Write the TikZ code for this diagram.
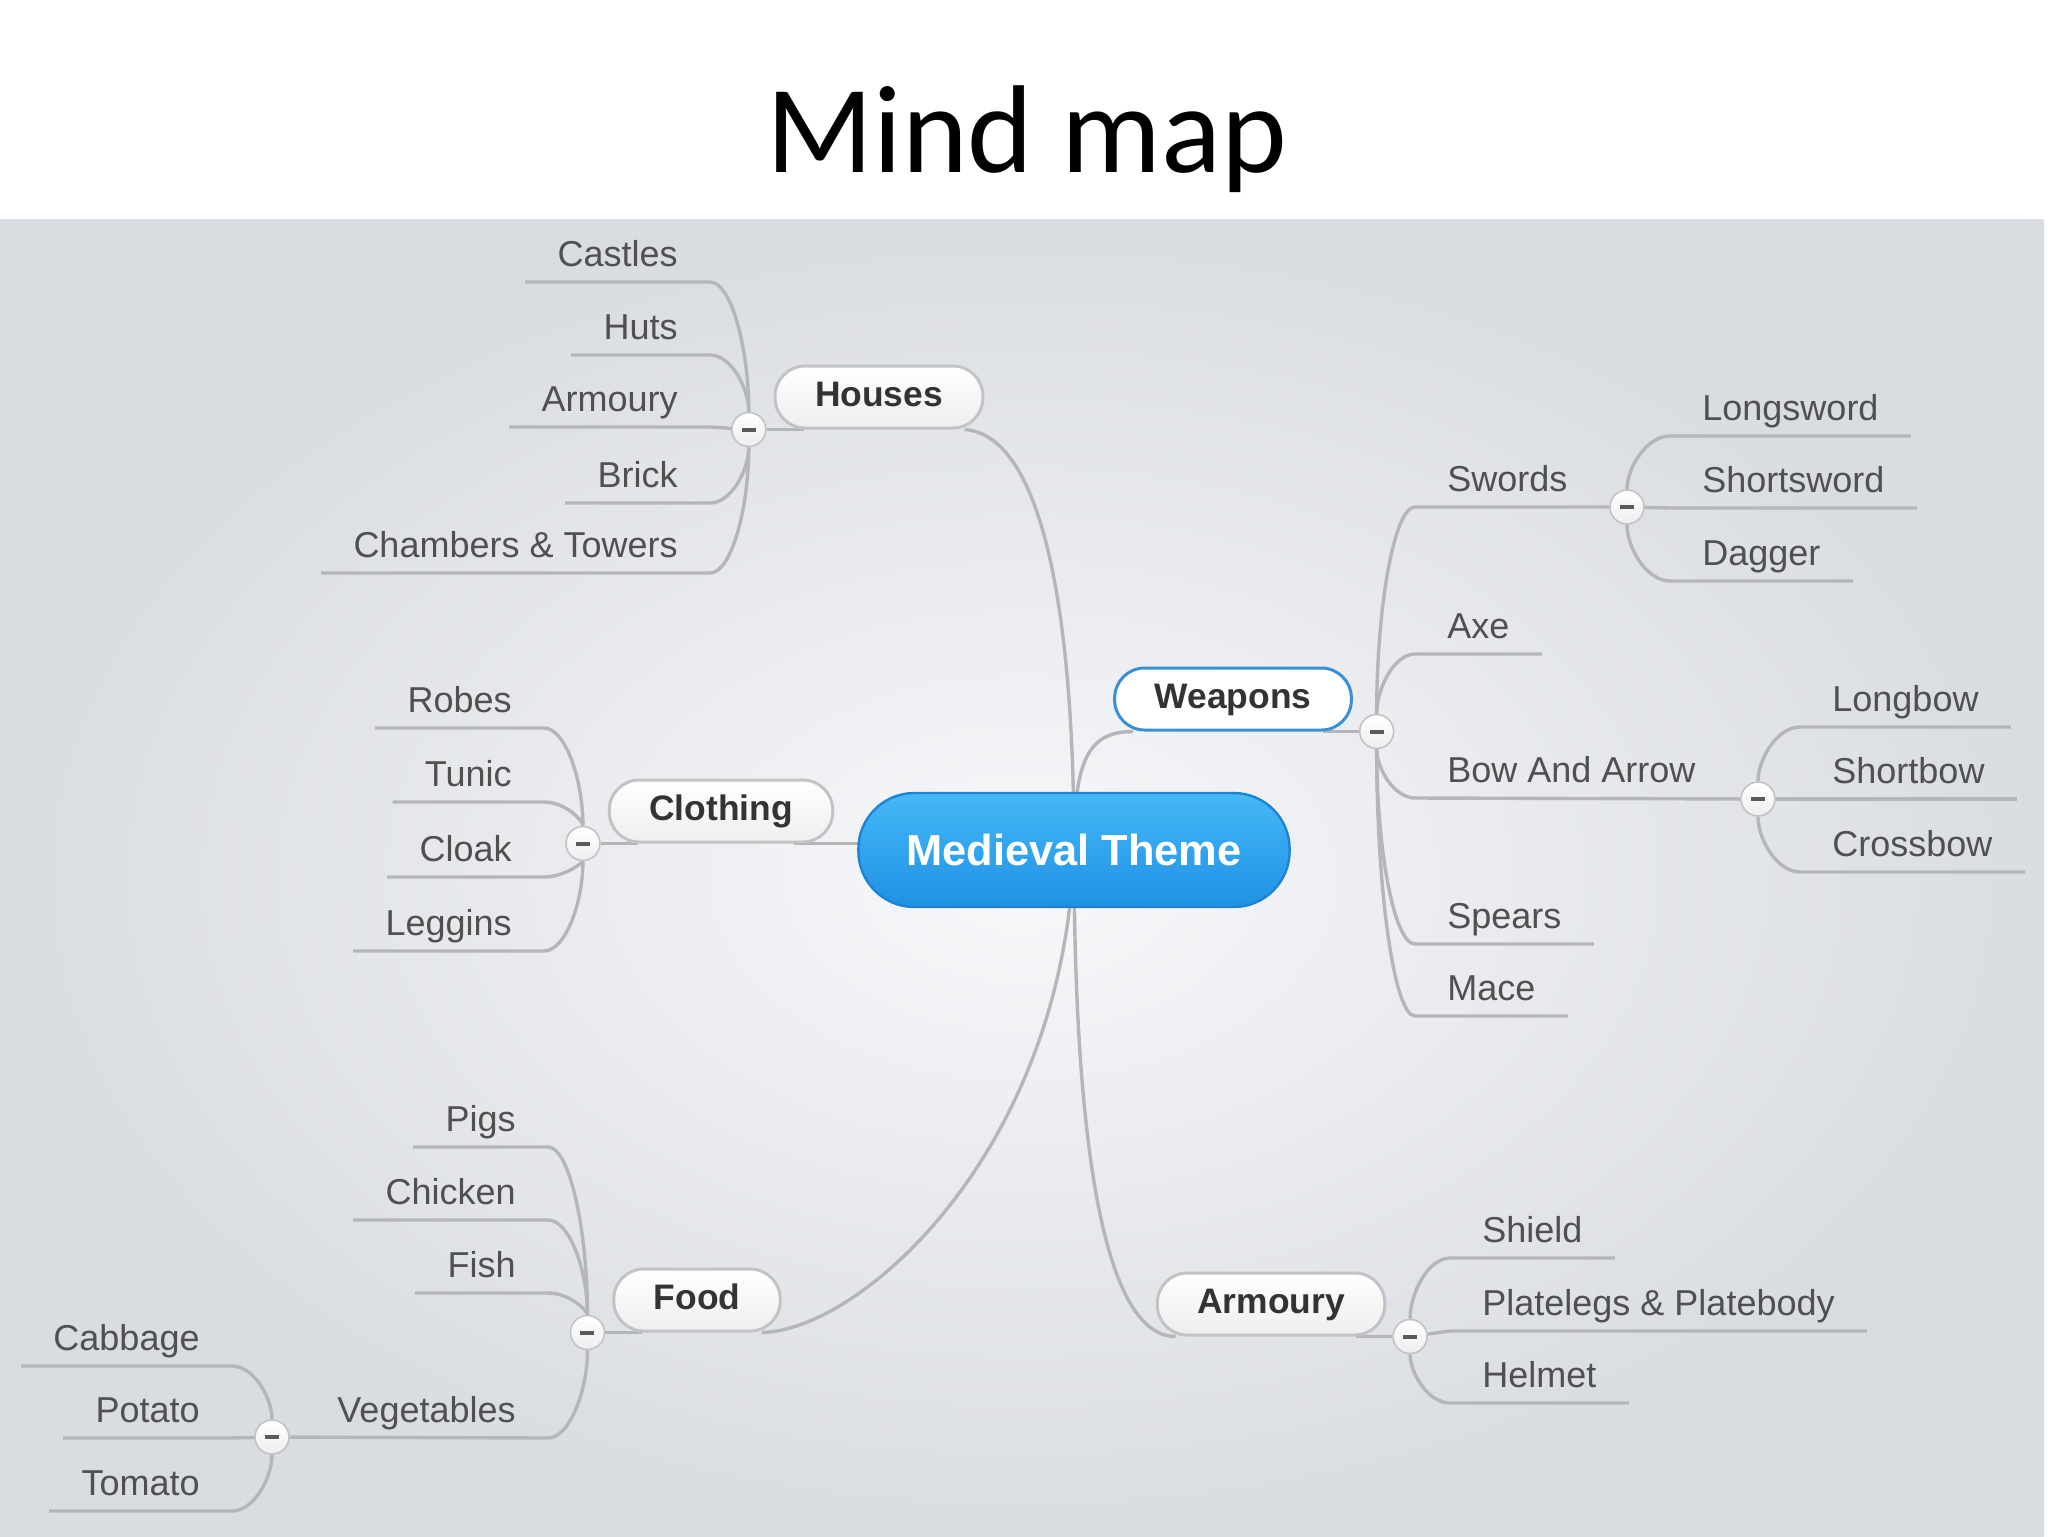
\documentclass[tikz,border=0pt]{standalone}
\usepackage{fontspec}
\setmainfont{Liberation Sans}
\newfontfamily\titlefont{Carlito}
\usepackage{xcolor}
\definecolor{cRootTop}{HTML}{45B8F7}
\definecolor{cRootBot}{HTML}{2090E4}
\definecolor{cRootLine}{HTML}{1C84D4}
\definecolor{cSel}{HTML}{3A8FD6}
\definecolor{cLine}{HTML}{B5B6B8}
\definecolor{cBox}{HTML}{C2C3C5}
\definecolor{cBoxBot}{HTML}{EEEEF0}
\definecolor{cText}{HTML}{333333}
\definecolor{cLeaf}{HTML}{505050}
\definecolor{cFold}{HTML}{5A5A5A}
\definecolor{cBgIn}{HTML}{F7F8FA}
\definecolor{cBgOut}{HTML}{D9DCE1}
\usepackage{tikz}
\usetikzlibrary{positioning,calc}
\pgfdeclarelayer{bg}
\pgfdeclarelayer{links}
\pgfsetlayers{bg,links,main}
\tikzset{
  node-root/.style={draw=cRootLine,line width=1.2pt,top color=cRootTop,bottom color=cRootBot,
    rounded corners=28pt,minimum height=57pt,inner xsep=24pt,text=white,
    font=\fontsize{21.7}{26}\selectfont\bfseries},
  node-topic/.style={draw=cBox,line width=1.5pt,top color=white,bottom color=cBoxBot,
    rounded corners=15pt,minimum height=31pt,inner xsep=20pt,text=cText,
    text height=13pt,text depth=3.5pt,font=\fontsize{17.7}{21}\selectfont\bfseries},
  node-topic-sel/.style={draw=cSel,top color=white,bottom color=white},
  node-leaf/.style={inner xsep=16pt,inner ysep=3.5pt,text depth=4pt,text=cLeaf,
    font=\fontsize{18}{22}\selectfont},
  leaf-l/.style={node-leaf,anchor=south east},
  leaf-r/.style={node-leaf,anchor=south west},
  node-fold/.style={circle,draw=cBox,line width=0.8pt,top color=white,bottom color=cBoxBot,
    minimum size=17pt,inner sep=0pt,
    path picture={\draw[cFold,line width=2pt]
      ([xshift=-3.5pt]path picture bounding box.center) -- ([xshift=3.5pt]path picture bounding box.center);}},
  link/.style={draw=cLine,line width=1.7pt},
  link-bend/.style={to path={.. controls ($(\tikztostart)!0.55!(\tikztostart|-\tikztotarget)$)
    and ($(\tikztotarget)!0.55!(\tikztostart|-\tikztotarget)$) .. (\tikztotarget)}},
}

\begin{document}
\begin{tikzpicture}[x=0.5pt,y=-0.5pt]
  \useasboundingbox (0,0) rectangle (2048,1536);
  \begin{pgfonlayer}{bg}
    \fill[white] (0,0) rectangle (2048,1536);
    \shade[inner color=cBgIn,outer color=cBgOut] (0,219) rectangle (2044,1536);
  \end{pgfonlayer}

  \node[font=\titlefont\fontsize{62.5}{70}\selectfont,anchor=base] (title) at (1027,172) {Mind map};

  % main topics
  \node[node-root] (root) at (1074,850) {Medieval Theme};
  \node[node-topic] (houses) at (879,397) {Houses};
  \node[node-topic] (clothing) at (721,811) {Clothing};
  \node[node-topic] (food) at (697,1300) {Food};
  \node[node-topic,node-topic-sel] (weapons) at (1233,699) {Weapons};
  \node[node-topic] (armoury) at (1271,1304) {Armoury};

  \node[node-fold,left=3.5pt of houses.south west] (hc) {};
  \node[node-fold,left=3.5pt of clothing.south west] (cc) {};
  \node[node-fold,left=3.5pt of food.south west] (fc) {};
  \node[node-fold,right=3pt of weapons.south east] (wc) {};
  \node[node-fold,right=3pt of armoury.south east] (ac) {};

  % houses
  \node[leaf-l] (castles) at (710,282) {Castles};
  \node[leaf-l] (huts) at (710,355) {Huts};
  \node[leaf-l] (h-armoury) at (710,427) {Armoury};
  \node[leaf-l] (brick) at (710,503) {Brick};
  \node[leaf-l] (chambers) at (710,573) {Chambers \& Towers};
  % clothing
  \node[leaf-l] (robes) at (544,728) {Robes};
  \node[leaf-l] (tunic) at (544,802) {Tunic};
  \node[leaf-l] (cloak) at (544,877) {Cloak};
  \node[leaf-l] (leggins) at (544,951) {Leggins};
  % food
  \node[leaf-l] (pigs) at (548,1147) {Pigs};
  \node[leaf-l] (chicken) at (548,1220) {Chicken};
  \node[leaf-l] (fish) at (548,1293) {Fish};
  \node[leaf-l] (veg) at (548,1438) {Vegetables};
  \node[node-fold] (vc) at (272,1437) {};
  \node[leaf-l] (cabbage) at (232,1366) {Cabbage};
  \node[leaf-l] (potato) at (232,1438) {Potato};
  \node[leaf-l] (tomato) at (232,1511) {Tomato};
  % weapons
  \node[leaf-r] (swords) at (1415,507) {Swords};
  \node[node-fold] (sc) at (1627,507) {};
  \node[leaf-r] (longsword) at (1670,436) {Longsword};
  \node[leaf-r] (shortsword) at (1670,508) {Shortsword};
  \node[leaf-r] (dagger) at (1670,581) {Dagger};
  \node[leaf-r] (axe) at (1415,654) {Axe};
  \node[leaf-r] (bow) at (1415,798) {Bow And Arrow};
  \node[node-fold] (bc) at (1758,799) {};
  \node[leaf-r] (longbow) at (1800,727) {Longbow};
  \node[leaf-r] (shortbow) at (1800,799) {Shortbow};
  \node[leaf-r] (crossbow) at (1800,872) {Crossbow};
  \node[leaf-r] (spears) at (1415,944) {Spears};
  \node[leaf-r] (mace) at (1415,1016) {Mace};
  % armoury
  \node[leaf-r] (shield) at (1450,1258) {Shield};
  \node[leaf-r] (plates) at (1450,1331) {Platelegs \& Platebody};
  \node[leaf-r] (helmet) at (1450,1403) {Helmet};

  \begin{pgfonlayer}{links}
    % root to topics
    \draw[link] ([xshift=-10pt]houses.south east) .. controls +(75,5) and +(0,-250) .. (root.center);
    \draw[link] ([xshift=10pt]weapons.south west) .. controls +(-45,0) and +(0,-90) .. (root.center);
    \draw[link] ([xshift=-20pt]clothing.south east) -- (clothing.south -| root.center);
    \draw[link] ([xshift=-10pt]food.south east) .. controls +(100,-2) and +(-10,300) .. (root.center);
    \draw[link] ([xshift=10pt]armoury.south west) .. controls +(-80,0) and +(0,250) .. (root.center);
    % topics to folds
    \draw[link] (hc) -- ([xshift=15pt]houses.south west);
    \draw[link] (cc) -- ([xshift=15pt]clothing.south west);
    \draw[link] (fc) -- ([xshift=15pt]food.south west);
    \draw[link] (wc) -- ([xshift=-15pt]weapons.south east);
    \draw[link] (ac) -- ([xshift=-15pt]armoury.south east);
    % houses
    \draw[link] (hc) to[link-bend] (castles.south east) -- (castles.south west);
    \draw[link] (hc) to[link-bend] (huts.south east) -- (huts.south west);
    \draw[link] (hc) -- (h-armoury.south east) -- (h-armoury.south west);
    \draw[link] (hc) to[link-bend] (brick.south east) -- (brick.south west);
    \draw[link] (hc) to[link-bend] (chambers.south east) -- (chambers.south west);
    % clothing
    \draw[link] (cc) to[link-bend] (robes.south east) -- (robes.south west);
    \draw[link] (cc) to[link-bend] (tunic.south east) -- (tunic.south west);
    \draw[link] (cc) to[link-bend] (cloak.south east) -- (cloak.south west);
    \draw[link] (cc) to[link-bend] (leggins.south east) -- (leggins.south west);
    % food
    \draw[link] (fc) to[link-bend] (pigs.south east) -- (pigs.south west);
    \draw[link] (fc) to[link-bend] (chicken.south east) -- (chicken.south west);
    \draw[link] (fc) to[link-bend] (fish.south east) -- (fish.south west);
    \draw[link] (fc) to[link-bend] (veg.south east) -- (vc);
    \draw[link] (vc) to[link-bend] (cabbage.south east) -- (cabbage.south west);
    \draw[link] (vc) -- (potato.south east) -- (potato.south west);
    \draw[link] (vc) to[link-bend] (tomato.south east) -- (tomato.south west);
    % weapons
    \draw[link] (wc) to[link-bend] (swords.south west) -- (sc);
    \draw[link] (sc) to[link-bend] (longsword.south west) -- (longsword.south east);
    \draw[link] (sc) -- (shortsword.south west) -- (shortsword.south east);
    \draw[link] (sc) to[link-bend] (dagger.south west) -- (dagger.south east);
    \draw[link] (wc) to[link-bend] (axe.south west) -- (axe.south east);
    \draw[link] (wc) to[link-bend] (bow.south west) -- (bc);
    \draw[link] (bc) to[link-bend] (longbow.south west) -- (longbow.south east);
    \draw[link] (bc) -- (shortbow.south west) -- (shortbow.south east);
    \draw[link] (bc) to[link-bend] (crossbow.south west) -- (crossbow.south east);
    \draw[link] (wc) to[link-bend] (spears.south west) -- (spears.south east);
    \draw[link] (wc) to[link-bend] (mace.south west) -- (mace.south east);
    % armoury
    \draw[link] (ac) to[link-bend] (shield.south west) -- (shield.south east);
    \draw[link] (ac) -- (plates.south west) -- (plates.south east);
    \draw[link] (ac) to[link-bend] (helmet.south west) -- (helmet.south east);
  \end{pgfonlayer}
\end{tikzpicture}
\end{document}
